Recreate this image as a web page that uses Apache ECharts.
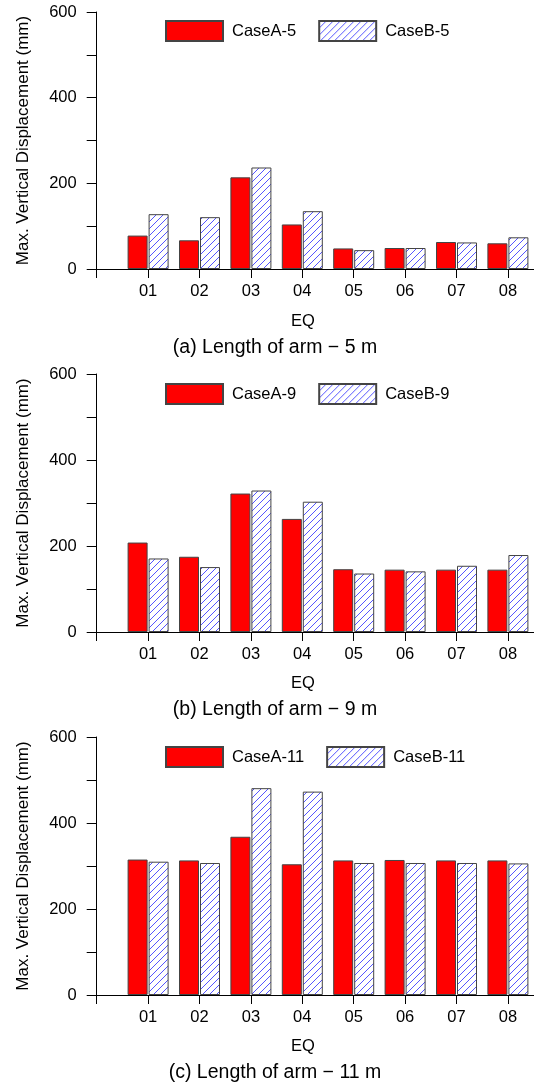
<!DOCTYPE html>
<html>
<head>
<meta charset="utf-8">
<script src="https://cdn.jsdelivr.net/npm/echarts@6/dist/echarts.min.js"></script>
<style>
html,body{margin:0;padding:0;background:#fff;}
#chart{width:534px;height:1087px;}
</style>
</head>
<body>
<div id="chart"></div>
<script>
// ---- data ----
var categories = ['', '01', '02', '03', '04', '05', '06', '07', '08', ''];
var yTicks = [0, 200, 400, 600];
var captions = ['(a) Length of arm \u2212 5 m', '(b) Length of arm \u2212 9 m', '(c) Length of arm \u2212 11 m'];
var namesA = ['CaseA-5', 'CaseA-9', 'CaseA-11'];
var namesB = ['CaseB-5', 'CaseB-9', 'CaseB-11'];
var caseA5 = [null, 78, 67, 214, 104, 48, 49, 63, 60];
var caseB5 = [null, 128, 121, 237, 135, 44, 49, 62, 74];
var caseA9 = [null, 208, 175, 322, 263, 146, 145, 145, 145];
var caseB9 = [null, 171, 151, 329, 303, 136, 141, 154, 179];
var caseA11 = [null, 315, 313, 368, 304, 313, 314, 313, 313];
var caseB11 = [null, 310, 307, 481, 473, 307, 307, 307, 306];
var seriesA = [caseA5, caseA9, caseA11];
var seriesB = [caseB5, caseB9, caseB11];

// ---- hatch pattern ----
function makeHatch() {
  var s = 7;
  var c = document.createElement('canvas');
  c.width = s; c.height = s;
  var g = c.getContext('2d');
  g.fillStyle = '#ffffff';
  g.fillRect(0, 0, s, s);
  g.strokeStyle = '#5555ff';
  g.lineWidth = 1;
  g.beginPath();
  g.moveTo(-1, s + 1); g.lineTo(s + 1, -1);
  g.moveTo(-1, 1); g.lineTo(1, -1);
  g.moveTo(s - 1, s + 1); g.lineTo(s + 1, s - 1);
  g.stroke();
  return c;
}
var hatch = { image: makeHatch(), repeat: 'repeat' };

var FONT = 'Liberation Sans, Arial, sans-serif';
var tops = [12, 374, 737];
var heights = [257, 258, 258];
var legendTops = [15, 378, 741];
var eqY = [321, 683, 1046];
var capY = [348, 710, 1073];

var grids = [], xAxes = [], yAxes = [], series = [], legends = [], graphics = [];
for (var i = 0; i < 3; i++) {
  grids.push({ left: 96.7, top: tops[i], width: 51.4 * 9, height: heights[i], containLabel: false, outerBoundsMode: 'none' });
  xAxes.push({
    type: 'category', gridIndex: i, data: categories, boundaryGap: false,
    axisLine: { lineStyle: { color: '#000', width: 1 } },
    axisTick: { show: true, length: 9, inside: false, interval: 0, lineStyle: { color: '#000' } },
    axisLabel: { interval: 0, color: '#000', fontSize: 16.5, fontFamily: FONT, margin: 14 },
    splitLine: { show: false }
  });
  yAxes.push({
    type: 'value', gridIndex: i, min: 0, max: 600, interval: 100,
    name: 'Max. Vertical Displacement (mm)', nameLocation: 'middle', nameGap: 65,
    nameTextStyle: { color: '#000', fontSize: 17, fontFamily: FONT },
    axisLine: { show: true, lineStyle: { color: '#000', width: 1 } },
    axisTick: { show: true, length: 10, lineStyle: { color: '#000' } },
    axisLabel: {
      color: '#000', fontSize: 16.5, fontFamily: FONT, margin: 20,
      formatter: function (v) { return yTicks.indexOf(v) >= 0 ? String(v) : ''; }
    },
    splitLine: { show: false }
  });
  series.push({
    name: namesA[i], type: 'bar', xAxisIndex: i, yAxisIndex: i, data: seriesA[i],
    barWidth: 20, barGap: '5%',
    itemStyle: { color: '#ff0000', borderColor: '#444', borderWidth: 1 }
  });
  series.push({
    name: namesB[i], type: 'bar', xAxisIndex: i, yAxisIndex: i, data: seriesB[i],
    barWidth: 20, barGap: '5%',
    itemStyle: { color: hatch, borderColor: '#444', borderWidth: 1 }
  });
  legends.push({
    data: [namesA[i], namesB[i]], left: 160, top: legendTops[i],
    orient: 'horizontal', icon: 'rect', itemWidth: 57, itemHeight: 20, itemGap: 22,
    selectedMode: false,
    textStyle: { color: '#000', fontSize: 16.5, fontFamily: FONT, padding: [0, 0, 0, 4] }
  });
  graphics.push({
    type: 'text', x: 303, y: eqY[i],
    style: { text: 'EQ', fill: '#000', font: '16.5px ' + FONT, textAlign: 'center', textVerticalAlign: 'middle' }
  });
  graphics.push({
    type: 'text', x: 275, y: capY[i],
    style: { text: captions[i], fill: '#000', font: '19.5px ' + FONT, textAlign: 'center', textVerticalAlign: 'middle' }
  });
}

var chart = echarts.init(document.getElementById('chart'), null, { renderer: 'canvas' });
chart.setOption({
  animation: false,
  backgroundColor: '#fff',
  grid: grids, xAxis: xAxes, yAxis: yAxes, series: series, legend: legends,
  graphic: graphics
});
</script>
</body>
</html>
